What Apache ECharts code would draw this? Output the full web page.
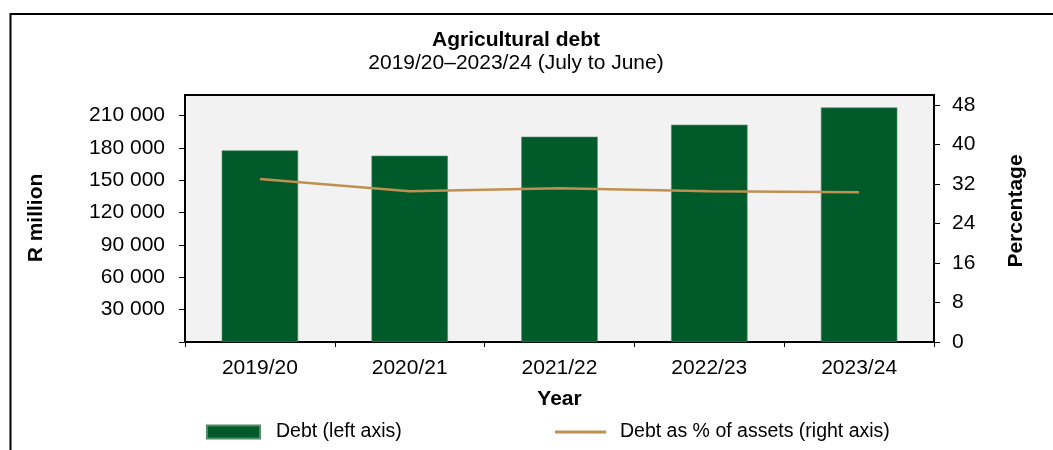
<!DOCTYPE html>
<html>
<head>
<meta charset="utf-8">
<script src="https://cdn.jsdelivr.net/npm/echarts@6/dist/echarts.min.js"></script>
<style>
html,body{margin:0;padding:0;background:#fff;}
#chart{width:1053px;height:450px;}
</style>
</head>
<body>
<div id="chart"></div>
<script>
var categories = ['2019/20', '2020/21', '2021/22', '2022/23', '2023/24'];
var debt = [177600, 172700, 190300, 201400, 217400];
var debtPct = [33.0, 30.5, 31.1, 30.5, 30.3];
var leftTicks = [30000, 60000, 90000, 120000, 150000, 180000, 210000];
var rightTicks = [0, 8, 16, 24, 32, 40, 48];

var FONT = "'Liberation Sans', Arial, sans-serif";
var FS = 21;
var LFS = 19.5;
function fmt(v){ return String(v).replace(/\B(?=(\d{3})+(?!\d))/g, ' '); }

var chart = echarts.init(document.getElementById('chart'));
chart.setOption({
  animation: false,
  textStyle: { fontFamily: FONT, color: '#000' },
  graphic: [
    { type: 'line', shape: { x1: 10, y1: 14, x2: 1053, y2: 14 }, style: { stroke: '#000', lineWidth: 2 } },
    { type: 'line', shape: { x1: 10.5, y1: 13, x2: 10.5, y2: 450 }, style: { stroke: '#000', lineWidth: 2 } },
    { type: 'text', x: 516, y: 40, style: { text: 'Agricultural debt', font: 'bold ' + FS + 'px ' + FONT, fill: '#000', align: 'center', verticalAlign: 'middle' } },
    { type: 'text', x: 516, y: 63, style: { text: '2019/20–2023/24 (July to June)', font: FS + 'px ' + FONT, fill: '#000', align: 'center', verticalAlign: 'middle' } },
    { type: 'text', x: 36, y: 218, rotation: Math.PI / 2, style: { text: 'R million', font: 'bold ' + FS + 'px ' + FONT, fill: '#000', align: 'center', verticalAlign: 'middle' } },
    { type: 'text', x: 1016, y: 211, rotation: Math.PI / 2, style: { text: 'Percentage', font: 'bold ' + FS + 'px ' + FONT, fill: '#000', align: 'center', verticalAlign: 'middle' } }
  ],
  grid: {
    left: 185, right: 119, top: 95, bottom: 108,
    show: true, backgroundColor: '#f2f2f2', borderColor: '#000', borderWidth: 2
  },
  legend: [
    {
      data: [{ name: 'Debt (left axis)', icon: 'rect' }],
      left: 201, top: 417, itemWidth: 53, itemHeight: 13,
      textStyle: { fontFamily: FONT, fontSize: LFS, color: '#000', padding: [0, 0, 0, 11] }
    },
    {
      data: [{ name: 'Debt as % of assets (right axis)', icon: 'rect' }],
      left: 550, top: 417, itemWidth: 51, itemHeight: 3,
      textStyle: { fontFamily: FONT, fontSize: LFS, color: '#000', padding: [0, 0, 0, 9] }
    }
  ],
  xAxis: {
    type: 'category', data: categories,
    name: 'Year', nameLocation: 'middle', nameGap: 47,
    nameTextStyle: { fontFamily: FONT, fontSize: FS, fontWeight: 'bold', color: '#000' },
    axisLine: { lineStyle: { color: '#000', width: 2 } },
    axisTick: { show: true, inside: false, length: 5, lineStyle: { color: '#000', width: 1 } },
    axisLabel: { fontFamily: FONT, fontSize: FS, color: '#000', margin: 16 }
  },
  yAxis: [
    {
      type: 'value', min: 0, max: 229000, interval: 30000, position: 'left',
      axisLine: { show: true, lineStyle: { color: '#000', width: 2 } },
      axisTick: { show: true, inside: false, length: 6, customValues: [0].concat(leftTicks), lineStyle: { color: '#000', width: 1 } },
      axisLabel: { fontFamily: FONT, fontSize: FS, color: '#000', margin: 20, customValues: leftTicks, formatter: function(v){ return fmt(v); } },
      splitLine: { show: false }
    },
    {
      type: 'value', min: 0, max: 50, interval: 8, position: 'right',
      axisLine: { show: true, lineStyle: { color: '#000', width: 2 } },
      axisTick: { show: true, inside: false, length: 6, customValues: rightTicks, lineStyle: { color: '#000', width: 1 } },
      axisLabel: { fontFamily: FONT, fontSize: FS, color: '#000', margin: 18, customValues: rightTicks },
      splitLine: { show: false }
    }
  ],
  series: [
    {
      name: 'Debt (left axis)', type: 'bar', yAxisIndex: 0, data: debt,
      barWidth: '51%',
      itemStyle: { color: '#005a2a', borderColor: '#4f8a62', borderWidth: 0.6 }
    },
    {
      name: 'Debt as % of assets (right axis)', type: 'line', yAxisIndex: 1, data: debtPct,
      symbol: 'none', showSymbol: false,
      lineStyle: { color: '#bf9052', width: 2.5 },
      itemStyle: { color: '#bf9052' }
    }
  ]
});
</script>
</body>
</html>
